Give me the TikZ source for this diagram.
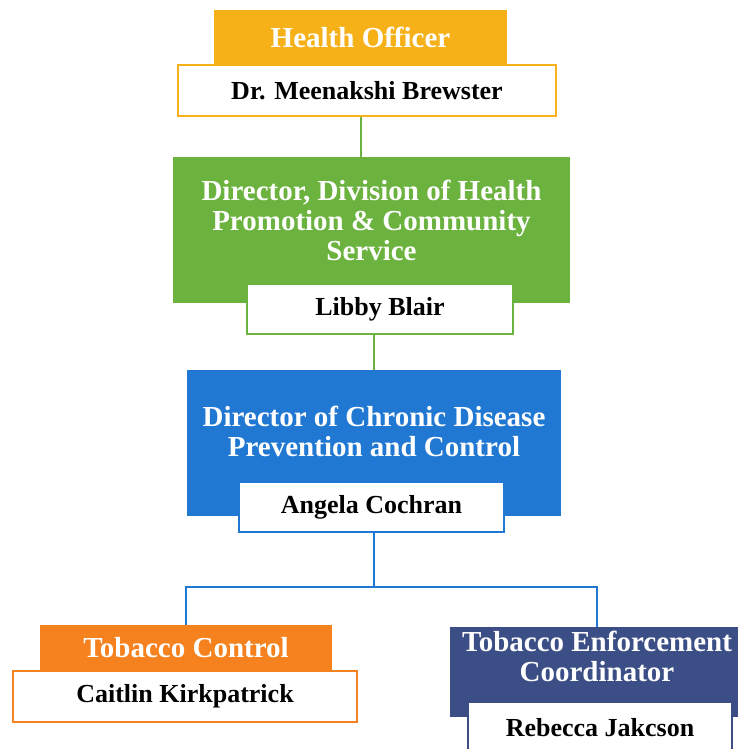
\documentclass[tikz,border=0pt]{standalone}
\usepackage{fontspec}
\setmainfont{Liberation Serif}
\definecolor{gold}{HTML}{F6B119}
\definecolor{leaf}{HTML}{6BB23F}
\definecolor{sky}{HTML}{2178D3}
\definecolor{tangerine}{HTML}{F5821F}
\definecolor{navy}{HTML}{3B4E85}
\begin{document}
\begin{tikzpicture}[
        x=1pt, y=-1pt,
        role/.style={rectangle, inner sep=0pt, text=white, align=center,
            font=\fontsize{29}{30}\selectfont\bfseries},
        person/.style={draw, rectangle, fill=white, line width=1.5pt, inner sep=0pt,
            font=\fontsize{26}{28}\selectfont\bfseries},
        link/.style={line width=2pt}
    ]
        \useasboundingbox (0,0) rectangle (737,749);
        % coloured boxes
        \node[role, fill=gold, minimum width=293pt, minimum height=55pt] (ho) at (360.5,37.5) {Health Officer};
        \node[role, fill=leaf, minimum width=397pt, minimum height=146pt] (dir) at (371.5,230) {};
        \node[role] (dirText) at (371.5,220) {Director, Division of Health\\Promotion \& Community\\Service};
        \node[role, fill=sky, minimum width=374pt, minimum height=146pt] (dcd) at (374,443) {};
        \node[role] (dcdText) at (374,431) {Director of Chronic Disease\\Prevention and Control};
        \node[role, fill=tangerine, minimum width=292pt, minimum height=46pt] (tc) at (186,648) {Tobacco Control};
        \node[role, fill=navy, minimum width=294pt, minimum height=90pt] (tec) at (597,672) {};
        \node[role] (tecText) at (597,656) {Tobacco Enforcement\\Coordinator};
        % names
        \node[person, draw=gold, minimum width=378pt, minimum height=51pt] (hoName) at (367,90.5) {Dr. Meenakshi Brewster};
        \node[person, draw=leaf, minimum width=266pt, minimum height=50pt] (libby) at (380,309) {Libby Blair};
        \node[person, draw=sky, minimum width=265pt, minimum height=50pt] (angela) at (371.5,507) {Angela Cochran};
        \node[person, draw=tangerine, minimum width=344pt, minimum height=51pt] (caitlin) at (185,696.5) {Caitlin Kirkpatrick};
        \node[person, draw=navy, minimum width=264pt, minimum height=52pt] (rebecca) at (600,728) {Rebecca Jakcson};
        % connectors
        \draw[link, leaf] (ho.south |- hoName.south) -- (ho.south |- dir.north);
        \draw[link, leaf] (dcd.north |- libby.south) -- (dcd.north);
        \coordinate (fork) at (374,587);
        \draw[link, sky] (fork |- angela.south) -- (fork) -| (tc.north);
        \draw[link, sky] (fork) -| (tec.north);
    \end{tikzpicture}
\end{document}
